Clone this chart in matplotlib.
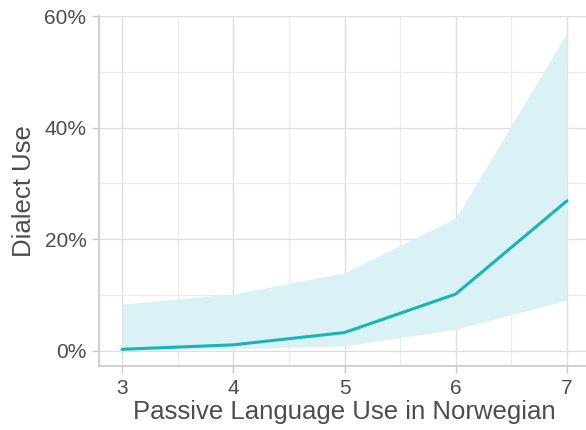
import matplotlib
matplotlib.use("Agg")
import matplotlib.pyplot as plt
from matplotlib.ticker import FuncFormatter, MultipleLocator

# Predicted dialect use by passive Norwegian use, with confidence band
passive_use = [3, 4, 5, 6, 7]
dialect_fit = [0.003, 0.011, 0.033, 0.102, 0.269]
ci_lower = [0.001, 0.004, 0.009, 0.039, 0.091]
ci_upper = [0.084, 0.102, 0.140, 0.238, 0.570]
y_ticks = [0.0, 0.2, 0.4, 0.6]

plt.rcParams["font.family"] = ["Liberation Sans", "DejaVu Sans"]

fig = plt.figure(figsize=(5.86, 4.30), dpi=100)
ax = fig.add_axes([99 / 586, 64 / 430, 491 / 586, 350 / 430])

ax.fill_between(passive_use, ci_lower, ci_upper, color="#DAF1F5", lw=0, zorder=2)
ax.plot(passive_use, dialect_fit, color="#17B4BC", lw=2.2, zorder=3,
        solid_capstyle="round")

ax.set_xlim(2.793, 7.207)
ax.set_ylim(-0.0269, 0.60)
ax.set_yticks(y_ticks)
ax.yaxis.set_major_formatter(FuncFormatter(lambda v, _: f"{v * 100:.0f}%"))
ax.xaxis.set_major_locator(MultipleLocator(1))
ax.xaxis.set_minor_locator(MultipleLocator(0.5))
ax.yaxis.set_minor_locator(MultipleLocator(0.1))

ax.grid(which="major", color="#DEDEDE", lw=1.0, zorder=0)
ax.grid(which="minor", color="#EBEBEB", lw=0.9, zorder=0)
ax.set_axisbelow(True)

for side in ("top", "right"):
    ax.spines[side].set_visible(False)
for side in ("left", "bottom"):
    ax.spines[side].set_color("#C8C8C8")
    ax.spines[side].set_linewidth(1.2)

ax.tick_params(which="major", length=5, width=1.0, color="#C8C8C8",
               labelsize=15, labelcolor="#4D4D4D", pad=4)
ax.tick_params(which="minor", length=0)

ax.set_xlabel("Passive Language Use in Norwegian", fontsize=18.5,
              color="#4D4D4D", labelpad=2)
ax.set_ylabel("Dialect Use", fontsize=18.5, color="#4D4D4D", labelpad=6)

fig.savefig("out.png", dpi=100)
